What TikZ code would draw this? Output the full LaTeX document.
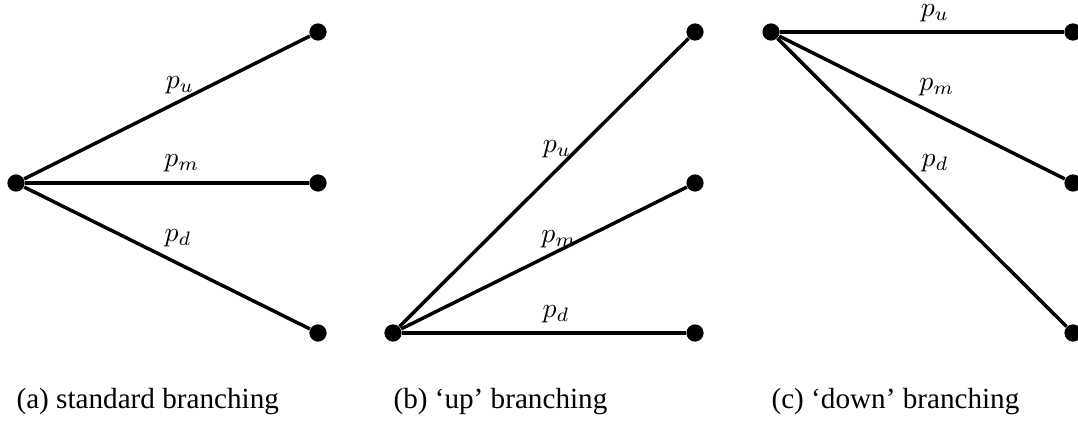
\documentclass[tikz,border=0pt]{standalone}
\usepackage{fontspec}
\setmainfont{Liberation Serif}
\usetikzlibrary{positioning}

\begin{document}
\begin{tikzpicture}[x=0.36pt, y=-0.36pt,
    dot/.style={circle, fill=black, inner sep=0pt, minimum size=6.2pt},
    branch/.style={line width=1.25pt, black},
    prob/.style={font=\normalsize, inner sep=0pt},
    caption/.style={font=\fontsize{10.5}{12}\selectfont, anchor=base west, inner sep=0pt}
]
    \useasboundingbox (0,0) rectangle (1078,423);
    % (a) standard branching
    \node[dot] (a0) at (16,183) {};
    \node[dot] (au) at (318,32) {};
    \node[dot] (am) at (318,183) {};
    \node[dot] (ad) at (318,333) {};
    \draw[branch] (a0) -- (au);
    \draw[branch] (a0) -- (am);
    \draw[branch] (a0) -- (ad);
    \node[prob] at (180,85) {$p_u$};
    \node[prob] at (182,163) {$p_m$};
    \node[prob] at (178,238) {$p_d$};
    \node[caption] (capa) at (16,408) {(a) standard branching};
    % (b) 'up' branching
    \node[dot] (b0) at (393,333) {};
    \node[dot] (bu) at (695,32) {};
    \node[dot] (bm) at (695,183) {};
    \node[dot] (bd) at (695,333) {};
    \draw[branch] (b0) -- (bu);
    \draw[branch] (b0) -- (bm);
    \draw[branch] (b0) -- (bd);
    \node[prob] at (557,149) {$p_u$};
    \node[prob] at (559,239) {$p_m$};
    \node[prob] at (556,314) {$p_d$};
    \node[caption] (capb) at (393,408) {(b) `up' branching};
    % (c) 'down' branching
    \node[dot] (c0) at (771,32) {};
    \node[dot] (cu) at (1073,32) {};
    \node[dot] (cm) at (1073,183) {};
    \node[dot] (cd) at (1073,333) {};
    \draw[branch] (c0) -- (cu);
    \draw[branch] (c0) -- (cm);
    \draw[branch] (c0) -- (cd);
    \node[prob] at (935,13) {$p_u$};
    \node[prob] at (937,87) {$p_m$};
    \node[prob] at (935,163) {$p_d$};
    \node[caption] (capc) at (771,408) {(c) `down' branching};
\end{tikzpicture}
\end{document}
